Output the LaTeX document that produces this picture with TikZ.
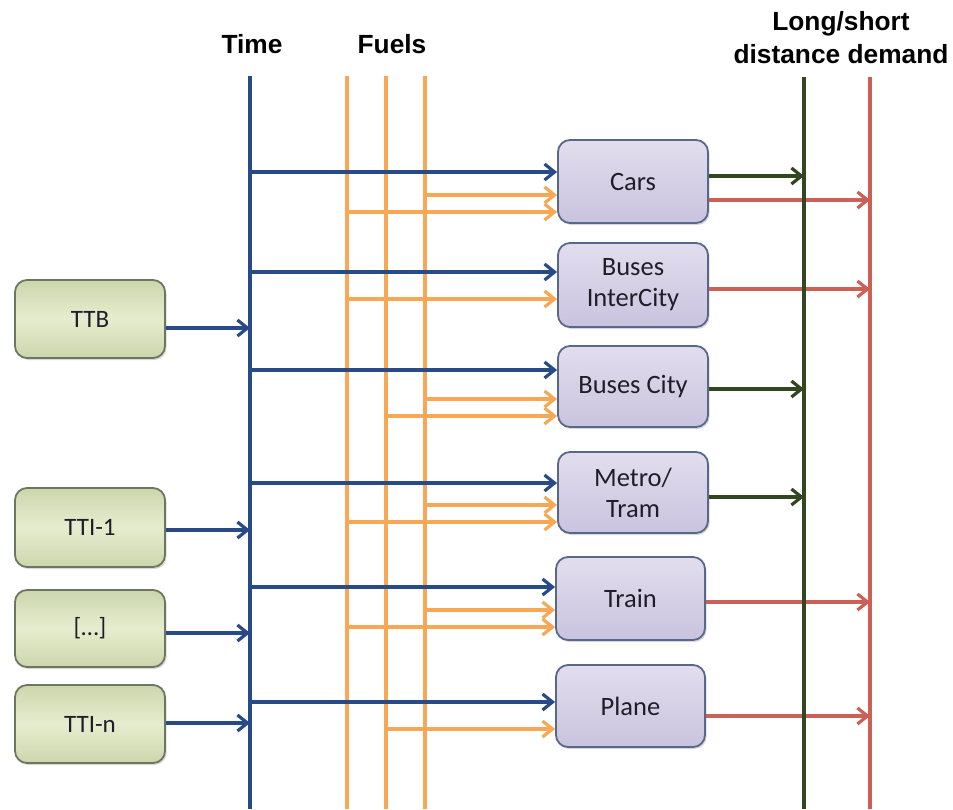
\documentclass[tikz,border=0pt]{standalone}
\usepackage{fontspec}
\setmainfont{Carlito}
\newfontfamily\labfont{Liberation Sans}
\usetikzlibrary{arrows.meta,shadows}
\definecolor{tblue}{RGB}{40,74,134}
\definecolor{torange}{RGB}{248,168,84}
\definecolor{tgreen}{RGB}{50,70,32}
\definecolor{tred}{RGB}{204,96,86}
\definecolor{ptop}{RGB}{226,221,238}
\definecolor{pbot}{RGB}{202,195,222}
\definecolor{pborder}{RGB}{88,104,138}
\definecolor{gmid}{RGB}{230,237,207}
\definecolor{gedge}{RGB}{204,214,172}
\definecolor{gborder}{RGB}{108,118,96}
\definecolor{txt}{RGB}{30,30,40}
\begin{document}
\begin{tikzpicture}[x=1pt,y=-1pt,
  ln/.style={line width=3.2pt},
  tip/.style={-{Straight Barb[length=10pt,width=16pt]}},
  mbox/.style={draw=pborder, line width=1.8pt, rounded corners=12pt,
    top color=ptop, bottom color=pbot, align=center, inner sep=2pt,
    font=\fontsize{26.5}{31}\selectfont, text=txt,
    drop shadow={opacity=0.3, shadow xshift=1.5pt, shadow yshift=-2pt}},
  gbox/.style={draw=gborder, line width=1.8pt, rounded corners=12pt,
    top color=gedge, bottom color=gedge, middle color=gmid, align=center,
    minimum width=150pt, minimum height=78pt, inner sep=2pt,
    font=\fontsize{25}{30}\selectfont, text=txt,
    drop shadow={opacity=0.3, shadow xshift=1.5pt, shadow yshift=-2pt}},
  lab/.style={font=\labfont\bfseries\fontsize{26.3}{33}\selectfont, align=center}]
\useasboundingbox[fill=white] (0,0) rectangle (953,809);

% labels
\node[lab] (timel) at (252,44) {Time};
\node[lab] (fuell) at (392,44) {Fuels};
\node[lab] (demandl) at (841,38) {Long/short\\distance demand};

% vertical lines
\coordinate (tt) at (250,76); \coordinate (tb) at (250,809);
\coordinate (f1t) at (347,76); \coordinate (f1b) at (347,809);
\coordinate (f2t) at (386,76); \coordinate (f2b) at (386,809);
\coordinate (f3t) at (425,76); \coordinate (f3b) at (425,809);
\coordinate (gt) at (804,77); \coordinate (gb) at (804,809);
\coordinate (rt) at (870,77); \coordinate (rb) at (870,809);

\draw[ln,torange] (f1t) -- (f1b);
\draw[ln,torange] (f2t) -- (f2b);
\draw[ln,torange] (f3t) -- (f3b);
\draw[ln,tblue] (tt) -- (tb);

% mode boxes
\node[mbox, minimum width=150pt, minimum height=83pt] (cars) at (633,181.5) {Cars};
\node[mbox, minimum width=150pt, minimum height=84pt] (busic) at (633,285) {Buses\\InterCity};
\node[mbox, minimum width=150pt, minimum height=81pt] (busc) at (633,386.5) {Buses City};
\node[mbox, minimum width=150pt, minimum height=81pt] (metro) at (633,492.5) {Metro/\\Tram};
\node[mbox, minimum width=149pt, minimum height=83pt] (train) at (630.5,598.5) {Train};
\node[mbox, minimum width=149pt, minimum height=82pt] (plane) at (630.5,706) {Plane};

% input boxes
\node[gbox] (ttb) at (90,319) {TTB};
\node[gbox, minimum height=79pt] (tti1) at (90,527.5) {TTI-1};
\node[gbox, minimum height=77pt] (ttidots) at (90,628.5) {[\ldots]};
\node[gbox] (ttin) at (90,724) {TTI-n};

% inputs to time line
\draw[ln,tblue,tip] (ttb.east |- 0,328) -- (tt |- 0,328);
\draw[ln,tblue,tip] (tti1.east |- 0,530) -- (tt |- 0,530);
\draw[ln,tblue,tip] (ttidots.east |- 0,633) -- (tt |- 0,633);
\draw[ln,tblue,tip] (ttin.east |- 0,723) -- (tt |- 0,723);

% time to modes
\draw[ln,tblue,tip] (tt |- 0,172) -- (cars.west |- 0,172);
\draw[ln,tblue,tip] (tt |- 0,272) -- (busic.west |- 0,272);
\draw[ln,tblue,tip] (tt |- 0,370) -- (busc.west |- 0,370);
\draw[ln,tblue,tip] (tt |- 0,483) -- (metro.west |- 0,483);
\draw[ln,tblue,tip] (tt |- 0,587) -- (train.west |- 0,587);
\draw[ln,tblue,tip] (tt |- 0,702) -- (plane.west |- 0,702);

% fuels to modes
\draw[ln,torange,tip] (f3t |- 0,195) -- (cars.west |- 0,195);
\draw[ln,torange,tip] (f1t |- 0,212) -- (cars.west |- 0,212);
\draw[ln,torange,tip] (f1t |- 0,299) -- (busic.west |- 0,299);
\draw[ln,torange,tip] (f3t |- 0,399) -- (busc.west |- 0,399);
\draw[ln,torange,tip] (f2t |- 0,416) -- (busc.west |- 0,416);
\draw[ln,torange,tip] (f3t |- 0,505) -- (metro.west |- 0,505);
\draw[ln,torange,tip] (f1t |- 0,522) -- (metro.west |- 0,522);
\draw[ln,torange,tip] (f3t |- 0,610) -- (train.west |- 0,610);
\draw[ln,torange,tip] (f1t |- 0,627) -- (train.west |- 0,627);
\draw[ln,torange,tip] (f2t |- 0,729) -- (plane.west |- 0,729);

% modes to demand
\draw[ln,tred,tip] (cars.east |- 0,200) -- (rt |- 0,200);
\draw[ln,tred,tip] (busic.east |- 0,289) -- (rt |- 0,289);
\draw[ln,tred,tip] (train.east |- 0,602) -- (rt |- 0,602);
\draw[ln,tred,tip] (plane.east |- 0,716) -- (rt |- 0,716);
\draw[ln,tgreen] (gt) -- (gb);
\draw[ln,tred] (rt) -- (rb);
\draw[ln,tgreen,tip] (cars.east |- 0,176) -- (gt |- 0,176);
\draw[ln,tgreen,tip] (busc.east |- 0,389) -- (gt |- 0,389);
\draw[ln,tgreen,tip] (metro.east |- 0,497) -- (gt |- 0,497);
\end{tikzpicture}
\end{document}
